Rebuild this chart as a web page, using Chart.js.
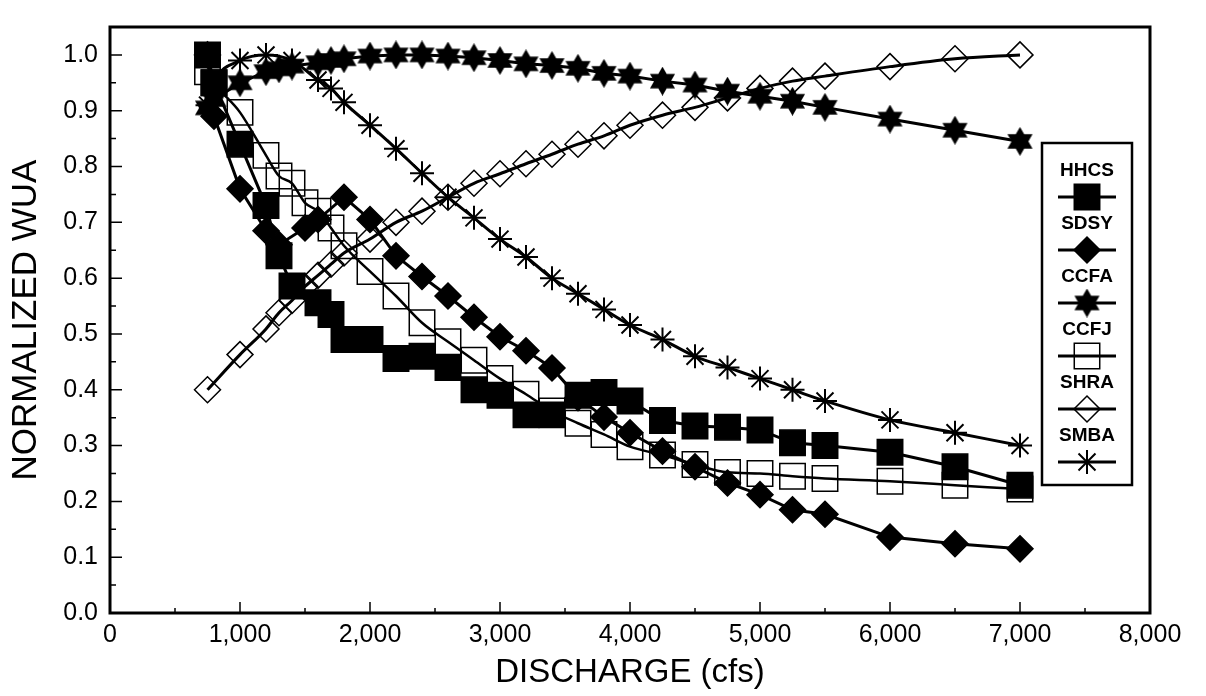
<!DOCTYPE html>
<html>
<head>
<meta charset="utf-8">
<script src="https://cdn.jsdelivr.net/npm/chart.js@4.4.1/dist/chart.umd.min.js"></script>
<style>
  html, body { margin: 0; padding: 0; background: #fff; }
  #wrap { width: 1206px; height: 696px; position: relative; }
</style>
</head>
<body>
<div id="wrap"><canvas id="wua"></canvas></div>
<script>
// tick labels
const xTicks = [0, 1000, 2000, 3000, 4000, 5000, 6000, 7000, 8000];
const yTicks = [0, 0.1, 0.2, 0.3, 0.4, 0.5, 0.6, 0.7, 0.8, 0.9, 1.0];

// discharge (cfs) and normalized WUA
const hhcsQ = [750, 800, 1000, 1200, 1300, 1400, 1600, 1700, 1800, 2000, 2200, 2400, 2600, 2800, 3000, 3200, 3400, 3600, 3800, 4000, 4250, 4500, 4750, 5000, 5250, 5500, 6000, 6500, 7000];
const hhcsWua = [1.0, 0.95, 0.84, 0.73, 0.64, 0.586, 0.556, 0.535, 0.49, 0.49, 0.456, 0.46, 0.44, 0.40, 0.39, 0.355, 0.355, 0.39, 0.395, 0.38, 0.345, 0.335, 0.333, 0.328, 0.305, 0.30, 0.288, 0.262, 0.229];

const sdsyQ = [750, 800, 1000, 1200, 1300, 1500, 1600, 1800, 2000, 2200, 2400, 2600, 2800, 3000, 3200, 3400, 3600, 3800, 4000, 4250, 4500, 4750, 5000, 5250, 5500, 6000, 6500, 7000];
const sdsyWua = [1.0, 0.89, 0.76, 0.685, 0.66, 0.69, 0.705, 0.745, 0.705, 0.64, 0.603, 0.568, 0.53, 0.495, 0.47, 0.439, 0.386, 0.351, 0.323, 0.29, 0.262, 0.233, 0.212, 0.185, 0.177, 0.136, 0.124, 0.115];

const ccfaQ = [750, 800, 1000, 1200, 1300, 1400, 1600, 1700, 1800, 2000, 2200, 2400, 2600, 2800, 3000, 3200, 3400, 3600, 3800, 4000, 4250, 4500, 4750, 5000, 5250, 5500, 6000, 6500, 7000];
const ccfaWua = [0.905, 0.92, 0.95, 0.97, 0.975, 0.98, 0.986, 0.99, 0.993, 0.998, 1.0, 1.0, 0.998, 0.995, 0.99, 0.984, 0.981, 0.976, 0.967, 0.962, 0.953, 0.946, 0.935, 0.926, 0.917, 0.906, 0.885, 0.865, 0.845];

const ccfjQ = [750, 800, 1000, 1200, 1300, 1400, 1500, 1600, 1700, 1800, 2000, 2200, 2400, 2600, 2800, 3000, 3200, 3400, 3600, 3800, 4000, 4250, 4500, 4750, 5000, 5250, 5500, 6000, 6500, 7000];
const ccfjWua = [0.97, 0.95, 0.897, 0.82, 0.783, 0.77, 0.735, 0.72, 0.69, 0.658, 0.612, 0.568, 0.52, 0.486, 0.453, 0.42, 0.392, 0.362, 0.34, 0.32, 0.298, 0.283, 0.266, 0.252, 0.25, 0.245, 0.241, 0.236, 0.229, 0.222];

const shraQ = [750, 1000, 1200, 1300, 1400, 1500, 1600, 1700, 1800, 2000, 2200, 2400, 2600, 2800, 3000, 3200, 3400, 3600, 3800, 4000, 4250, 4500, 4750, 5000, 5250, 5500, 6000, 6500, 7000];
const shraWua = [0.40, 0.463, 0.509, 0.538, 0.56, 0.585, 0.605, 0.625, 0.645, 0.67, 0.70, 0.72, 0.745, 0.77, 0.787, 0.805, 0.822, 0.84, 0.855, 0.874, 0.892, 0.906, 0.923, 0.94, 0.953, 0.962, 0.979, 0.993, 1.0];

const smbaQ = [750, 800, 1000, 1200, 1400, 1600, 1700, 1800, 2000, 2200, 2400, 2600, 2800, 3000, 3200, 3400, 3600, 3800, 4000, 4250, 4500, 4750, 5000, 5250, 5500, 6000, 6500, 7000];
const smbaWua = [0.91, 0.95, 0.99, 1.0, 0.99, 0.955, 0.94, 0.915, 0.874, 0.832, 0.788, 0.745, 0.708, 0.67, 0.638, 0.60, 0.572, 0.544, 0.516, 0.49, 0.46, 0.44, 0.42, 0.40, 0.38, 0.346, 0.323, 0.30];

const FONT = '"Liberation Sans", Arial, sans-serif';

function pts(q, v) {
  return q.map((x, i) => ({ x: x, y: v[i] }));
}

// filled six-point star for CCFA
function sixStar(size) {
  const c = document.createElement('canvas');
  c.width = size; c.height = size;
  const g = c.getContext('2d');
  const r = size / 2;
  g.fillStyle = '#000';
  g.beginPath();
  for (let i = 0; i < 12; i++) {
    const a = -Math.PI / 2 + i * Math.PI / 6;
    const rr = i % 2 ? r * 0.58 : r;
    g.lineTo(r + rr * Math.cos(a), r + rr * Math.sin(a));
  }
  g.closePath();
  g.fill();
  return c;
}
const starImg = sixStar(29);

function series(label, q, v, style, extra) {
  return Object.assign({
    label: label,
    data: pts(q, v),
    borderColor: '#000',
    borderWidth: 3,
    pointStyle: style,
    pointBorderColor: '#000',
    pointBackgroundColor: '#000',
    pointBorderWidth: 1.5,
    tension: 0,
    clip: false
  }, extra || {});
}

// frame and inward tick marks
const frame = {
  id: 'frame',
  afterDatasetsDraw(chart) {
    const ctx = chart.ctx, a = chart.chartArea;
    const xs = chart.scales.x, ys = chart.scales.y;
    ctx.save();
    ctx.strokeStyle = '#000';
    ctx.lineWidth = 1.5;
    ctx.beginPath();
    for (let v = 500; v < 8000; v += 500) {
      const px = xs.getPixelForValue(v);
      const len = v % 1000 === 0 ? 11 : 5;
      ctx.moveTo(px, a.bottom); ctx.lineTo(px, a.bottom - len);
    }
    for (let v = 0.05; v < 1.04; v += 0.05) {
      const py = ys.getPixelForValue(v);
      const len = Math.round(v * 100) % 10 === 0 ? 12 : 6;
      ctx.moveTo(a.left, py); ctx.lineTo(a.left + len, py);
    }
    ctx.stroke();
    ctx.lineWidth = 3;
    ctx.strokeRect(a.left, a.top, a.right - a.left, a.bottom - a.top);
    ctx.restore();
  }
};

// boxed legend with the name above each marker
const boxLegend = {
  id: 'boxLegend',
  afterDraw(chart) {
    const ctx = chart.ctx;
    const bx = 1042, by = 143, bw = 90, bh = 342;
    ctx.save();
    ctx.fillStyle = '#fff';
    ctx.fillRect(bx, by, bw, bh);
    ctx.strokeStyle = '#000';
    ctx.lineWidth = 2.5;
    ctx.strokeRect(bx, by, bw, bh);
    const cx = bx + bw / 2;
    chart.data.datasets.forEach((ds, i) => {
      const ty = by + 28 + i * 53;
      ctx.fillStyle = '#000';
      ctx.font = 'bold 19px ' + FONT;
      ctx.textAlign = 'center';
      ctx.textBaseline = 'middle';
      ctx.fillText(ds.label, cx, ty);
      const my = ty + 26;
      ctx.lineWidth = 3;
      ctx.beginPath();
      ctx.moveTo(cx - 29, my); ctx.lineTo(cx + 29, my);
      ctx.stroke();
      ctx.fillStyle = ds.pointBackgroundColor;
      ctx.lineWidth = ds.pointBorderWidth;
      Chart.helpers.drawPoint(ctx, {
        pointStyle: ds.pointStyle,
        radius: ds.pointRadius,
        rotation: 0,
        borderWidth: ds.pointBorderWidth
      }, cx, my);
    });
    ctx.restore();
  }
};

new Chart(document.getElementById('wua'), {
  type: 'line',
  data: {
    datasets: [
      series('HHCS', hhcsQ, hhcsWua, 'rect', { pointRadius: 18 }),
      series('SDSY', sdsyQ, sdsyWua, 'rectRot', { pointRadius: 13 }),
      series('CCFA', ccfaQ, ccfaWua, starImg, { pointRadius: 14 }),
      series('CCFJ', ccfjQ, ccfjWua, 'rect', { pointRadius: 18, borderWidth: 2.5, pointBackgroundColor: 'rgba(0,0,0,0)', tension: 0.4, cubicInterpolationMode: 'monotone' }),
      series('SHRA', shraQ, shraWua, 'rectRot', { pointRadius: 13, pointBackgroundColor: 'rgba(0,0,0,0)', tension: 0.4, cubicInterpolationMode: 'monotone' }),
      series('SMBA', smbaQ, smbaWua, 'star', { pointRadius: 12, pointBorderWidth: 2, pointBackgroundColor: 'rgba(0,0,0,0)', tension: 0.4, cubicInterpolationMode: 'monotone' })
    ]
  },
  options: {
    responsive: true,
    maintainAspectRatio: false,
    animation: false,
    events: [],
    layout: { padding: { top: 13, right: 56, left: 0, bottom: 0 } },
    plugins: {
      legend: { display: false },
      tooltip: { enabled: false }
    },
    scales: {
      x: {
        type: 'linear',
        min: 0,
        max: 8000,
        afterBuildTicks: s => { s.ticks = xTicks.map(v => ({ value: v })); },
        afterFit: s => { s.height = 83; },
        grid: { display: false, drawTicks: false },
        border: { display: false },
        ticks: {
          color: '#000',
          padding: 7,
          maxRotation: 0,
          font: { family: FONT, size: 25 },
          callback: v => v.toLocaleString('en-US')
        },
        title: {
          display: true,
          text: 'DISCHARGE (cfs)',
          color: '#000',
          font: { family: FONT, size: 33 },
          padding: { top: 0, bottom: 3 }
        }
      },
      y: {
        min: 0,
        max: 1.05,
        afterBuildTicks: s => { s.ticks = yTicks.map(v => ({ value: v })); },
        afterFit: s => { s.width = 110; },
        grid: { display: false, drawTicks: false },
        border: { display: false },
        ticks: {
          color: '#000',
          padding: 12,
          font: { family: FONT, size: 25 },
          callback: v => v.toFixed(1)
        },
        title: {
          display: true,
          text: 'NORMALIZED WUA',
          color: '#000',
          font: { family: FONT, size: 35 },
          padding: { top: 5, bottom: 0 }
        }
      }
    }
  },
  plugins: [frame, boxLegend]
});
</script>
</body>
</html>
